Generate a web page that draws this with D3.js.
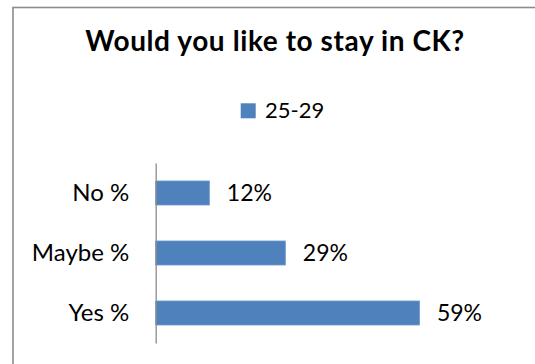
<!DOCTYPE html>
<html><head><meta charset="utf-8">
<script src="https://cdn.jsdelivr.net/npm/d3@7/dist/d3.min.js"></script>
<style>html,body{margin:0;padding:0;background:#fff;}svg{display:block;}</style>
</head><body>
<script>
const title = "Would you like to stay in CK?";
const seriesName = "25-29";
const categories = ["No %", "Maybe %", "Yes %"];
const values = [0.12, 0.29, 0.59];
const valueLabels = ["12%", "29%", "59%"];

const W = 535, H = 364;
const FONT = "Lato, 'Open Sans', sans-serif";
const svg = d3.select("body").append("svg").attr("width", W).attr("height", H);

// chart border (Excel-style frame, extends past right/bottom)
svg.append("rect").attr("x", 13).attr("y", 7.5).attr("width", 540).attr("height", 370)
  .attr("fill", "#fff").attr("stroke", "#8c8c8c").attr("stroke-width", 1.6);

// title
svg.append("text").attr("x", 274.7).attr("y", 51).attr("text-anchor", "middle")
  .attr("font-family", FONT).attr("font-weight", "bold").attr("font-size", 28)
  .attr("textLength", 379).attr("lengthAdjust", "spacing")
  .attr("fill", "#000").text(title);

// legend
svg.append("rect").attr("x", 240.7).attr("y", 103.3).attr("width", 15).attr("height", 15).attr("fill", "#4F81BD");
svg.append("text").attr("x", 265).attr("y", 118.3).attr("font-family", FONT).attr("font-size", 22)
  .attr("fill", "#000").text(seriesName);

const x = d3.scaleLinear().domain([0, 0.7]).range([155.7, 155.7 + 70 * 4.47]);
const y = d3.scaleBand().domain(categories).range([163, 343]).paddingInner(0.6).paddingOuter(0.3);

// bars
svg.selectAll("rect.bar").data(values).enter().append("rect").attr("class", "bar")
  .attr("x", x(0)).attr("y", (d, i) => y(categories[i]))
  .attr("width", d => x(d) - x(0)).attr("height", y.bandwidth())
  .attr("fill", "#4F81BD").attr("stroke", "#6A98CF").attr("stroke-width", 0.8);

// axis
const axis = d3.axisLeft(y).tickSize(0).tickPadding(26.4);
const gA = svg.append("g").attr("transform", `translate(${x(0)},0)`).call(axis);
gA.select(".domain").attr("stroke", "#8c8c8c").attr("stroke-width", 1.3);
gA.selectAll(".tick text").attr("font-family", FONT).attr("font-size", 24).attr("fill", "#000")
  .attr("dy", "0.35em");

// value labels
svg.selectAll("text.val").data(values).enter().append("text").attr("class", "val")
  .attr("x", d => x(d) + 17.5).attr("y", (d, i) => y(categories[i]) + y.bandwidth() / 2)
  .attr("dy", "0.35em").attr("font-family", FONT).attr("font-size", 23).attr("fill", "#000")
  .text((d, i) => valueLabels[i]);
</script>
</body></html>
